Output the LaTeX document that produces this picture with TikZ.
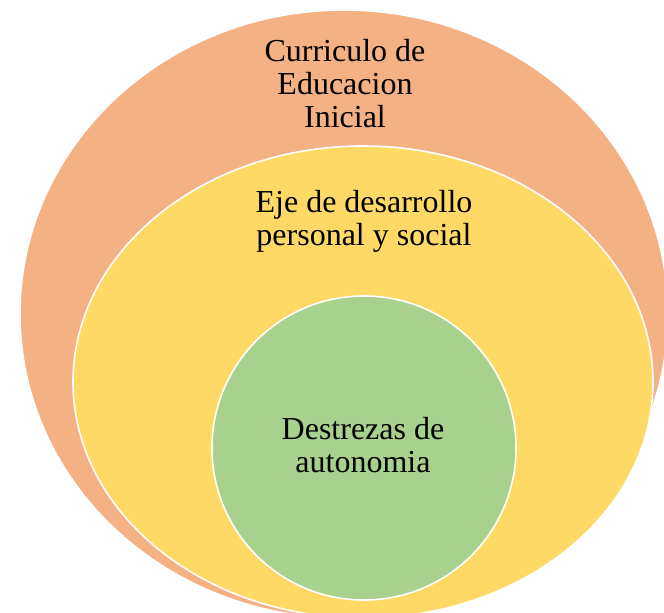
\documentclass[tikz,border=0pt]{standalone}
\usepackage{fontspec}
\setmainfont{Liberation Serif}
\usetikzlibrary{shapes.geometric}
\definecolor{ringorange}{RGB}{244,177,131}
\definecolor{ringyellow}{RGB}{255,217,102}
\definecolor{ringgreen}{RGB}{169,209,142}
\tikzset{
  ring/.style={ellipse, draw=white, line width=1.6pt, inner sep=0pt},
  lbl/.style={align=center, font=\fontsize{32}{33}\selectfont, text=black, inner sep=0pt}
}
\begin{document}
\begin{tikzpicture}[x=1pt, y=-1pt]
\useasboundingbox (0,0) rectangle (664,613);
\clip (0,0) rectangle (664,613);
\node[ring, fill=ringorange, minimum width=648pt, minimum height=608pt] (outer) at (344,314) {};
\node[ring, fill=ringyellow, minimum width=580pt, minimum height=472pt] (middle) at (363,382) {};
\node[ring, fill=ringgreen, minimum width=304pt, minimum height=304pt] (inner) at (364,448) {};
\node[lbl] (t1) at (345,83.5) {Curriculo de\\Educacion\\Inicial};
\node[lbl] (t2) at (364,221) {Eje de desarrollo\\personal y social};
\node[lbl] (t3) at (363,445.5) {Destrezas de\\autonomia};
\end{tikzpicture}
\end{document}
